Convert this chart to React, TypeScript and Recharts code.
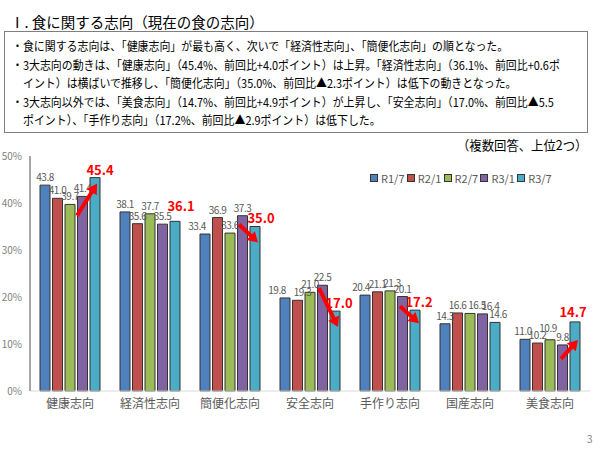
import React from 'react';
import { BarChart, Bar, XAxis, YAxis, LabelList, Legend } from 'recharts';

const categories = ['健康志向', '経済性志向', '簡便化志向', '安全志向', '手作り志向', '国産志向', '美食志向'];
const seriesNames = ['R1/7', 'R2/1', 'R2/7', 'R3/1', 'R3/7'];
const r1_7 = [43.8, 38.1, 33.4, 19.8, 20.4, 14.3, 11.0];
const r2_1 = [41.0, 35.6, 36.9, 19.3, 21.1, 16.6, 10.2];
const r2_7 = [39.7, 37.7, 33.6, 21.0, 21.3, 16.5, 10.9];
const r3_1 = [41.4, 35.5, 37.3, 22.5, 20.1, 16.4, 9.8];
const r3_7 = [45.4, 36.1, 35.0, 17.0, 17.2, 14.6, 14.7];
const yTicks = [0, 10, 20, 30, 40, 50];
const highlighted = [true, true, true, true, true, false, true];

const colors = ['#4F81BD', '#C0504D', '#9BBB59', '#8064A2', '#4BACC6'];
const seriesValues = [r1_7, r2_1, r2_7, r3_1, r3_7];

const data = categories.map((c, i) => {
  const row: any = { name: c };
  seriesNames.forEach((s, k) => {
    row[s] = seriesValues[k][i];
  });
  return row;
});

// Arrow annotations, relative to the R3/7 bar (left x, top y)
const arrowSpecs: Record<number, number[]> = {
  0: [-13, 38, 7, 6],
  2: [-11, -2, 8, 16],
  3: [-11, -23, 8, 16],
  4: [-10, -4, 9, 13],
  6: [-9, 37, 8, 18],
};
const redLabelShift: Record<number, number[]> = {
  0: [5, -8],
  1: [6, -15],
  2: [6, -9],
  3: [4, -8],
  4: [4, -8],
  6: [-2, -10],
};
// small data-label nudges (category-series) like the moved labels in the reference
const grayLabelShift: Record<string, number[]> = {
  '2-0': [-8, 0],
  '3-0': [-8, 0],
  '3-1': [5, 0],
  '4-0': [-4, 0],
  '4-2': [2, 0],
  '5-2': [7, 0],
  '5-3': [8, 0],
  '6-0': [-2, 0],
  '6-2': [-2, -4],
};

const FONT = '"Noto Sans CJK JP", "Noto Sans", sans-serif';

function Arrow({ x1, y1, x2, y2 }: { x1: number; y1: number; x2: number; y2: number }) {
  const dx = x2 - x1;
  const dy = y2 - y1;
  const len = Math.hypot(dx, dy);
  const ux = dx / len;
  const uy = dy / len;
  const head = 10;
  const hw = 6;
  const bx = x2 - ux * head;
  const by = y2 - uy * head;
  const px = -uy;
  const py = ux;
  return (
    <g>
      <line x1={x1} y1={y1} x2={bx + ux} y2={by + uy} stroke="#FF0000" strokeWidth={4} />
      <polygon
        points={`${x2},${y2} ${bx + px * hw},${by + py * hw} ${bx - px * hw},${by - py * hw}`}
        fill="#FF0000"
      />
    </g>
  );
}

const makeGrayLabel = (k: number) => (props: any) => {
  const { x, y, width, index, value } = props;
  const sh = grayLabelShift[`${index}-${k}`] || [0, 0];
  return (
    <text
      x={x + width / 2 + sh[0]}
      y={y - 4 + sh[1]}
      textAnchor="middle"
      fontSize={10}
      letterSpacing={-0.5}
      fill="#595959"
      fontFamily={FONT}
    >
      {Number(value).toFixed(1)}
    </text>
  );
};

const R37Label = (props: any) => {
  const { x, y, width, index, value } = props;
  const cx = x + width / 2;
  const arrow = arrowSpecs[index];
  if (!highlighted[index]) {
    return (
      <text x={cx + 3} y={y - 4} textAnchor="middle" fontSize={10} letterSpacing={-0.5} fill="#595959" fontFamily={FONT}>
        {Number(value).toFixed(1)}
      </text>
    );
  }
  const sh = redLabelShift[index] || [4, -9];
  return (
    <g>
      {arrow && <Arrow x1={x + arrow[0]} y1={y + arrow[1]} x2={x + arrow[2]} y2={y + arrow[3]} />}
      <text
        x={cx + sh[0]}
        y={y + sh[1] + 5}
        textAnchor="middle"
        fontSize={13}
        fontWeight="bold"
        fill="#FF0000"
        fontFamily={FONT}
      >
        {Number(value).toFixed(1)}
      </text>
    </g>
  );
};

const renderLegend = () => (
  <div style={{ display: 'flex', alignItems: 'center', fontFamily: FONT }}>
    {seriesNames.map((s, k) => (
      <div key={s} style={{ display: 'flex', alignItems: 'center', width: 36.8 }}>
        <span
          style={{
            display: 'inline-block',
            width: 6,
            height: 6,
            background: colors[k],
            border: '1px solid #333',
            marginRight: 3,
          }}
        />
        <span style={{ fontSize: 11, color: '#595959', lineHeight: '12px' }}>{s}</span>
      </div>
    ))}
  </div>
);

const textLines = [
  { t: '・食に関する志向は、「健康志向」が最も高く、次いで「経済性志向」、「簡便化志向」の順となった。', indent: false },
  { t: '・3大志向の動きは、「健康志向」（45.4%、前回比+4.0ポイント）は上昇。「経済性志向」（36.1%、前回比+0.6ポ', indent: false },
  { t: 'イント）は横ばいで推移し、「簡便化志向」（35.0%、前回比▲2.3ポイント）は低下の動きとなった。', indent: true },
  { t: '・3大志向以外では、「美食志向」（14.7%、前回比+4.9ポイント）が上昇し、「安全志向」（17.0%、前回比▲5.5', indent: false },
  { t: 'ポイント）、「手作り志向」（17.2%、前回比▲2.9ポイント）は低下した。', indent: true },
];

export default function App() {
  return (
    <div
      style={{
        position: 'absolute',
        left: 0,
        top: 0,
        width: 600,
        height: 450,
        background: '#fff',
        fontFamily: FONT,
        overflow: 'hidden',
      }}
    >
      <div
        style={{
          position: 'absolute',
          left: 10,
          top: 13,
          fontSize: 14.5,
          lineHeight: '18px',
          color: '#000',
          whiteSpace: 'nowrap',
        }}
      >
        Ⅰ. 食に関する志向（現在の食の志向）
      </div>
      <div
        style={{
          position: 'absolute',
          left: 4,
          top: 31,
          width: 582,
          height: 100,
          border: '1px solid #7f7f7f',
        }}
      />
      {textLines.map((l, i) => (
        <div
          key={i}
          style={{
            position: 'absolute',
            left: l.indent ? 23 : 12,
            top: 37 + i * 18.5,
            fontSize: 12,
            lineHeight: '18px',
            color: '#000',
            whiteSpace: 'nowrap',
            transform: 'scaleX(0.91)',
            transformOrigin: 'left center',
          }}
        >
          {l.t}
        </div>
      ))}
      <div
        style={{
          position: 'absolute',
          left: 457,
          top: 137,
          fontSize: 13,
          lineHeight: '16px',
          color: '#000',
          whiteSpace: 'nowrap',
          transform: 'scaleX(0.95)',
          transformOrigin: 'left center',
        }}
      >
        （複数回答、上位2つ）
      </div>
      <div
        style={{
          position: 'absolute',
          left: 587,
          top: 431,
          fontSize: 10,
          color: '#7f7f7f',
        }}
      >
        3
      </div>
      <div style={{ position: 'absolute', left: 0, top: 0 }}>
        <BarChart
          width={600}
          height={450}
          data={data}
          margin={{ top: 156, right: 10, bottom: 29, left: 0 }}
          barCategoryGap={10}
          barGap={2.5}
        >
          <XAxis
            dataKey="name"
            height={30}
            tickLine={false}
            axisLine={{ stroke: '#D9D9D9', strokeWidth: 1 }}
            tick={{ fontSize: 12, fill: '#595959', fontFamily: FONT }}
            interval={0}
          />
          <YAxis
            width={30}
            domain={[0, 50]}
            ticks={yTicks}
            tickLine={false}
            axisLine={{ stroke: '#A6A6A6', strokeWidth: 2 }}
            tick={{ fontSize: 10, fill: '#7f7f7f', fontFamily: FONT }}
            tickFormatter={(v: number) => `${v}%`}
          />
          <Legend
            layout="horizontal"
            verticalAlign="middle"
            align="center"
            content={renderLegend}
            wrapperStyle={{ top: 172, left: 370, width: 200 }}
          />
          {seriesNames.map((s, k) => (
            <Bar
              key={s}
              dataKey={s}
              fill={colors[k]}
              stroke="#333333"
              strokeWidth={1}
              isAnimationActive={false}
            >
              {k < 4 ? (
                <LabelList dataKey={s} content={makeGrayLabel(k)} />
              ) : (
                <LabelList dataKey={s} content={R37Label} />
              )}
            </Bar>
          ))}
        </BarChart>
      </div>
    </div>
  );
}
